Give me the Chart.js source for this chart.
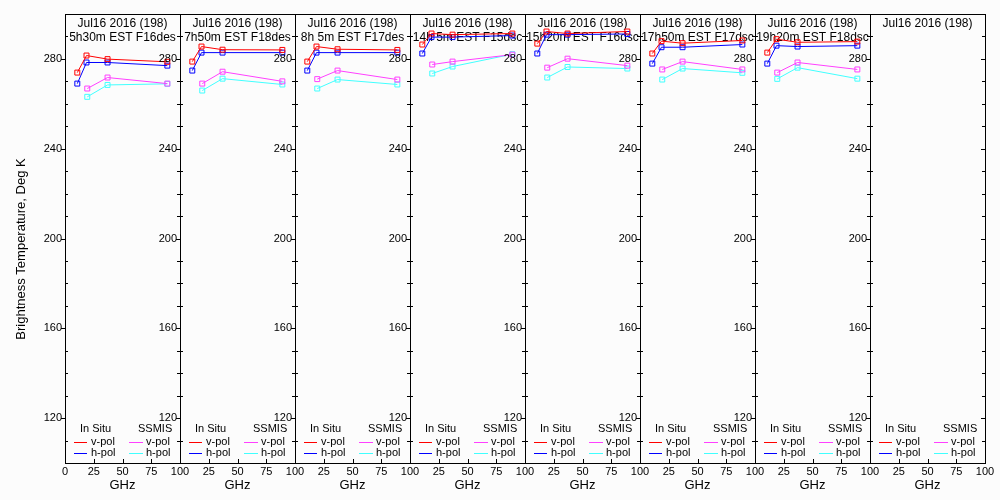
<!DOCTYPE html>
<html>
<head>
<meta charset="utf-8">
<script src="https://cdn.jsdelivr.net/npm/chart.js@4/dist/chart.umd.min.js"></script>
<style>
  html, body { margin: 0; padding: 0; background: #fcfcfc; }
  #wrap { position: relative; width: 1000px; height: 500px; background: #fcfcfc; overflow: hidden; }
  #wrap canvas { position: absolute; top: 0; }
</style>
</head>
<body>
<div id="wrap"></div>
<script>
// Brightness temperature per overpass
const panelTitle = 'Jul16 2016 (198)';
const passLabels = [
  '5h30m EST F16des', '7h50m EST F18des', '8h 5m EST F17des', '14h 5m EST F15dsc',
  '15h20m EST F16dsc', '17h50m EST F17dsc', '19h20m EST F18dsc', ''
];

const insituGHz = [10.7, 18.7, 37, 89];
const ssmisGHz = [19.35, 37, 89];

const insituV = [
  [273.9, 281.5, 279.9, 278.7],
  [278.8, 285.5, 284.1, 284.0],
  [278.8, 285.5, 284.3, 284.0],
  [286.4, 291.3, 290.8, 291.3],
  [286.8, 292.2, 291.3, 292.2],
  [282.4, 287.9, 287.0, 288.2],
  [282.8, 288.8, 287.4, 287.7],
  []
];
const insituH = [
  [269.0, 278.4, 278.4, 277.0],
  [274.8, 282.8, 282.8, 282.8],
  [274.8, 282.8, 282.8, 282.8],
  [282.4, 289.7, 289.7, 290.4],
  [282.4, 290.8, 290.8, 291.1],
  [277.9, 285.2, 285.2, 286.4],
  [277.9, 285.9, 285.5, 285.9],
  []
];
const ssmisV = [
  [266.8, 271.7, 269.0],
  [269.0, 274.3, 270.0],
  [271.0, 274.8, 270.8],
  [277.5, 278.8, 281.9],
  [276.1, 280.1, 277.0],
  [275.3, 278.8, 275.3],
  [273.9, 278.4, 275.3],
  []
];
const ssmisH = [
  [263.1, 268.4, 268.9],
  [265.9, 271.2, 268.6],
  [266.8, 270.8, 268.6],
  [273.5, 276.6, 282.1],
  [271.7, 276.4, 275.7],
  [270.8, 275.7, 273.8],
  [271.1, 276.1, 271.2],
  []
];

const yTicks = [120, 160, 200, 240, 280];
const xTicks = [0, 25, 50, 75, 100];

const colors = { insituV: '#ff0000', insituH: '#0000ff', ssmisV: '#ff40ff', ssmisH: '#40ffff' };
const FONT = '"Liberation Sans", Arial, sans-serif';

function pairs(xs, ys) {
  return ys.map((y, i) => ({ x: xs[i], y: y }));
}

function series(label, xs, ys, color) {
  return {
    label: label,
    data: pairs(xs, ys),
    borderColor: color,
    backgroundColor: color,
    borderWidth: 1,
    pointStyle: 'rect',
    pointRadius: 3.5,
    pointBorderWidth: 1,
    pointBackgroundColor: 'transparent',
    pointBorderColor: color,
    tension: 0
  };
}

// frame, ticks, titles and legend drawn by hand, like the old IDL-style plot
const panelDecor = {
  id: 'panelDecor',
  beforeDatasetsDraw(chart) {
    const { ctx, chartArea: a } = chart;
    const idx = chart.options.panelIndex;
    ctx.save();
    ctx.fillStyle = '#000';
    ctx.font = '12px ' + FONT;
    ctx.textAlign = 'center';
    ctx.textBaseline = 'middle';
    const cx = (a.left + a.right) / 2;
    ctx.fillText(panelTitle, cx, 24);
    if (passLabels[idx]) ctx.fillText(passLabels[idx], cx, 37.5);
    ctx.restore();
  },
  afterDraw(chart) {
    const { ctx, chartArea: a, scales } = chart;
    const idx = chart.options.panelIndex;
    ctx.save();
    ctx.strokeStyle = '#000';
    ctx.lineWidth = 1;
    ctx.strokeRect(Math.round(a.left) + 0.5, Math.round(a.top) + 0.5,
      Math.round(a.right - a.left), Math.round(a.bottom - a.top));

    // y ticks: major outward, minor inward
    ctx.beginPath();
    for (let v = 110; v <= 290; v += 10) {
      const y = Math.round(scales.y.getPixelForValue(v)) + 0.5;
      const l = Math.round(a.left), r = Math.round(a.right);
      if (yTicks.includes(v)) {
        ctx.moveTo(l - 4, y); ctx.lineTo(l, y);
        ctx.moveTo(r - 4, y); ctx.lineTo(r, y);
      } else {
        ctx.moveTo(l, y); ctx.lineTo(l + 3, y);
        ctx.moveTo(r - 3, y); ctx.lineTo(r, y);
      }
    }
    // x ticks, inward
    xTicks.forEach(v => {
      const x = Math.round(scales.x.getPixelForValue(v)) + 0.5;
      ctx.moveTo(x, Math.round(a.bottom)); ctx.lineTo(x, Math.round(a.bottom) - 4);
    });
    ctx.stroke();

    // legend
    const L = a.left;
    ctx.fillStyle = '#000';
    ctx.font = '11px ' + FONT;
    ctx.textAlign = 'left';
    ctx.textBaseline = 'middle';
    ctx.fillText('In Situ', L + 15, 429);
    ctx.fillText('SSMIS', L + 73, 429);
    const rows = [
      { y: 442, text: 'v-pol', c1: colors.insituV, c2: colors.ssmisV },
      { y: 453, text: 'h-pol', c1: colors.insituH, c2: colors.ssmisH }
    ];
    rows.forEach(row => {
      ctx.strokeStyle = row.c1;
      ctx.beginPath(); ctx.moveTo(L + 9, row.y + 0.5); ctx.lineTo(L + 22, row.y + 0.5); ctx.stroke();
      ctx.strokeStyle = row.c2;
      ctx.beginPath(); ctx.moveTo(L + 64, row.y + 0.5); ctx.lineTo(L + 78, row.y + 0.5); ctx.stroke();
      ctx.fillText(row.text, L + 26, row.y);
      ctx.fillText(row.text, L + 81, row.y);
    });

    if (idx === 0) {
      ctx.translate(21.5, 249);
      ctx.rotate(-Math.PI / 2);
      ctx.font = '13px ' + FONT;
      ctx.textAlign = 'center';
      ctx.fillText('Brightness Temperature, Deg K', 0, 0);
    }
    ctx.restore();
  }
};

function buildPanel(i) {
  const canvas = document.createElement('canvas');
  canvas.width = 195;
  canvas.height = 500;
  canvas.style.left = (115 * i) + 'px';
  document.getElementById('wrap').appendChild(canvas);

  return new Chart(canvas, {
    type: 'line',
    data: {
      datasets: [
        series('In Situ v-pol', insituGHz, insituV[i], colors.insituV),
        series('In Situ h-pol', insituGHz, insituH[i], colors.insituH),
        series('SSMIS v-pol', ssmisGHz, ssmisV[i], colors.ssmisV),
        series('SSMIS h-pol', ssmisGHz, ssmisH[i], colors.ssmisH)
      ]
    },
    options: {
      panelIndex: i,
      responsive: false,
      animation: false,
      devicePixelRatio: 1,
      layout: { padding: { left: 0, right: 15, top: 14, bottom: 0 } },
      plugins: { legend: { display: false }, tooltip: { enabled: false } },
      scales: {
        x: {
          type: 'linear',
          min: 0,
          max: 100,
          grid: { display: false, drawTicks: false },
          border: { display: false },
          afterFit: scale => { scale.height = 37; },
          ticks: {
            stepSize: 25,
            autoSkip: false,
            maxRotation: 0,
            padding: 2,
            color: '#000',
            font: { family: FONT, size: 11 },
            callback: v => (xTicks.includes(v) && (i === 0 || v !== 0)) ? String(v) : ''
          },
          title: {
            display: true,
            text: 'GHz',
            color: '#000',
            font: { family: FONT, size: 13 },
            padding: { top: 0, bottom: 7 }
          }
        },
        y: {
          type: 'linear',
          min: 100,
          max: 300,
          grid: { display: false, drawTicks: false },
          border: { display: false },
          afterFit: scale => { scale.width = 65; },
          ticks: {
            stepSize: 10,
            autoSkip: false,
            padding: 3,
            color: '#000',
            font: { family: FONT, size: 11 },
            callback: v => yTicks.includes(v) ? String(v) : ''
          }
        }
      }
    },
    plugins: [panelDecor]
  });
}

for (let i = 0; i < passLabels.length; i++) {
  buildPanel(i);
}
</script>
</body>
</html>
